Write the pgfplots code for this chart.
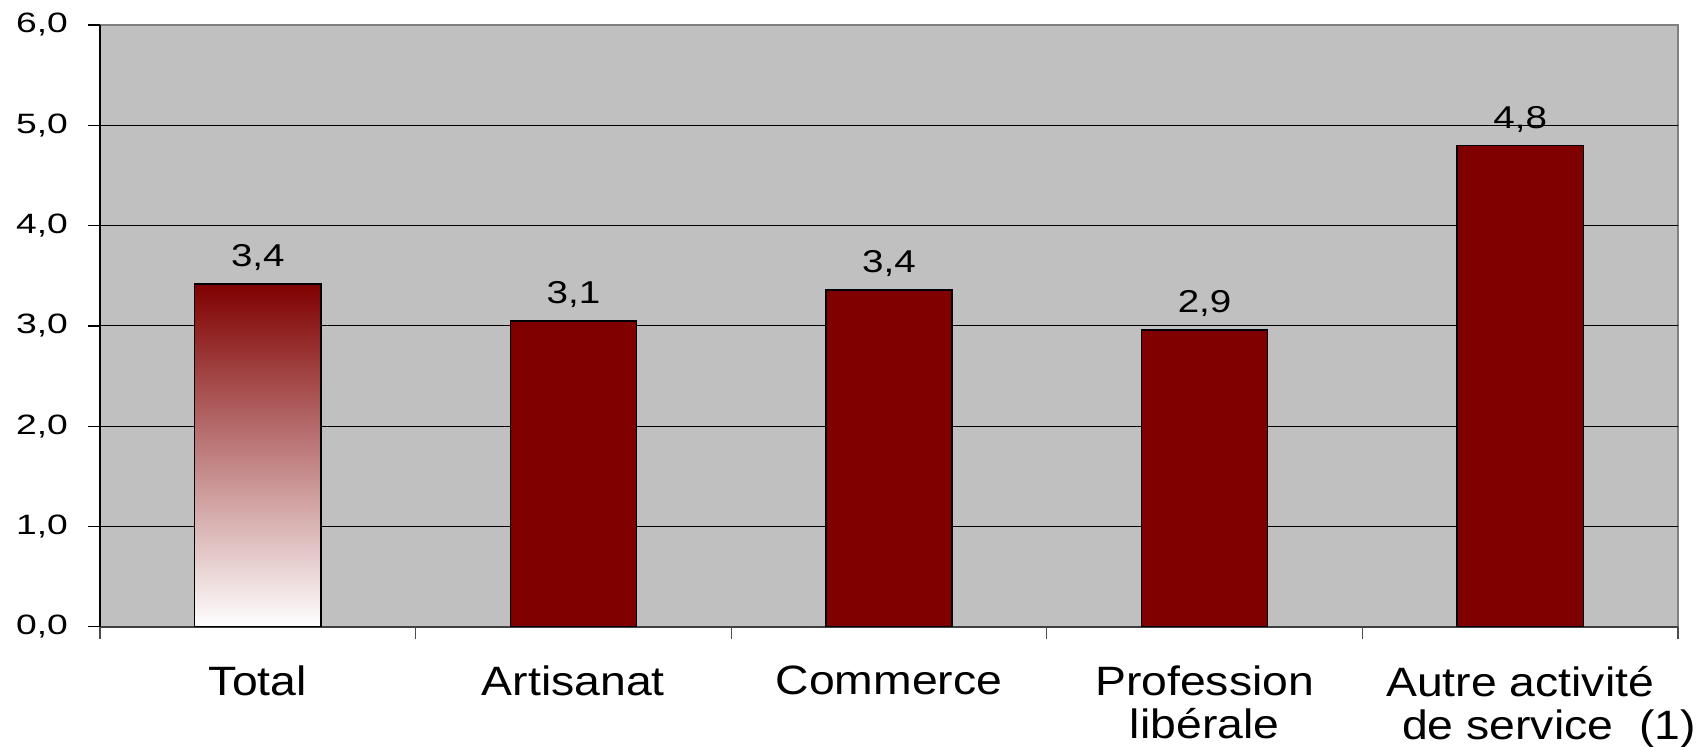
\documentclass[border=0pt]{standalone}
\usepackage{pgfplots}
\pgfplotsset{compat=1.18}
\usepackage{fontspec}
\setmainfont{Liberation Sans}
% the reference text is drawn somewhat wider than Arial
\newfontfamily\ytickfont[FakeStretch=1.33]{Liberation Sans}
\newfontfamily\catfont[FakeStretch=1.13]{Liberation Sans}
\newfontfamily\valfont[FakeStretch=1.22]{Liberation Sans}

\definecolor{barred}{RGB}{128,0,0}
\definecolor{plotbg}{RGB}{192,192,192}
\definecolor{fadered}{RGB}{199,174,174}

\begin{document}
\begin{tikzpicture}
\begin{axis}[
  scale only axis,
  width=789pt, height=300.9pt,
  xmin=-0.5, xmax=4.5,
  ymin=0, ymax=6,
  axis lines*=left,
  ytick={0,1,...,5},
  extra y ticks={6},
  extra y tick style={grid=none},
  xtick={0,1,2,3,4},
  xticklabels={Total, Artisanat, Commerce, {Profession\\libérale},
    {Autre activité\\\hspace*{28.8pt}de service~~(1)}},
  xtick style={draw=none},
  extra x ticks={-0.5,0.5,1.5,2.5,3.5,4.5},
  extra x tick labels={},
  extra x tick style={grid=none, xtick style={draw=black!70, line width=0.6pt}},
  tick align=outside,
  tick pos=left,
  major tick length=6pt,
  ymajorgrids,
  grid style={black, line width=0.5pt},
  axis background/.style={fill=plotbg, draw=black!50, line width=0.6pt},
  x axis line style={black!75, line width=0.75pt},
  y axis line style={black, line width=0.6pt},
  ytick style={black, line width=0.6pt},
  yticklabel style={font=\ytickfont\fontsize{14}{16}\selectfont, anchor=east, xshift=-6.5pt},
  xticklabel style={align=center, font=\catfont\fontsize{20.5}{21.5}\selectfont, yshift=-10pt},
  /pgf/number format/.cd, use comma, fixed, fixed zerofill, precision=1, assume math mode=true,
  /pgfplots/.cd,
  point meta=explicit symbolic,
  nodes near coords,
  every node near coord/.append style={font=\valfont\fontsize{15.8}{18}\selectfont, anchor=base, yshift=8.5pt},
]
% Total, shaded
\addplot[ybar, bar width=0.4, bar shift=0pt, draw=black, line width=0.75pt,
  top color=barred, middle color=fadered, bottom color=white]
  coordinates {(0,3.42) [3,4]};
% other categories
\addplot[ybar, bar width=0.4, bar shift=0pt, draw=black, line width=0.75pt, fill=barred]
  coordinates {(1,3.05) [3,1] (2,3.36) [3,4] (3,2.96) [2,9] (4,4.80) [4,8]};
\end{axis}
\pgfresetboundingbox
\path (-50pt,-59.6pt) rectangle (802pt,313.4pt);
\end{tikzpicture}
\end{document}
